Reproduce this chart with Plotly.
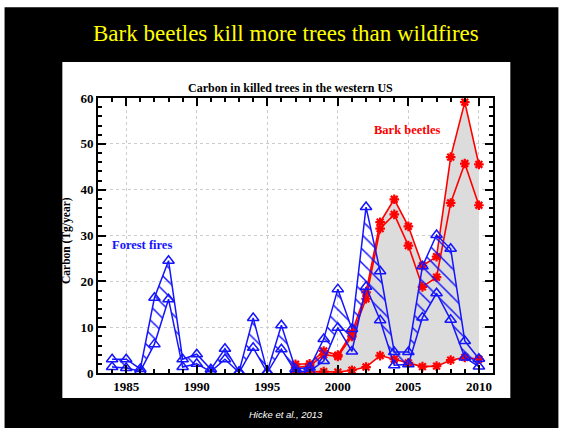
import plotly.graph_objects as go

fire_years = list(range(1984, 2011))
fire_high = [3.0, 3.0, 0.9, 16.4, 24.5, 3.0, 4.1, 0.8, 5.3, 0.3, 12.0, 0.3, 10.4, 0.9, 1.2, 7.4,
             18.3, 9.6, 36.2, 22.2, 4.6, 4.6, 23.3, 30.1, 27.1, 7.0, 3.1]
fire_low = [1.3, 1.1, 0.4, 6.3, 16.1, 1.3, 2.0, 0.3, 3.0, 0.1, 5.5, 0.1, 5.2, 0.3, 0.4, 2.6,
            9.9, 4.7, 18.8, 11.5, 1.7, 1.9, 12.1, 17.4, 11.6, 3.4, 1.4]

beetle_years = list(range(1997, 2011))
beetle_high = [1.9, 2.0, 4.8, 3.9, 8.8, 17.6, 32.9, 37.9, 32.0, 23.4, 25.4, 47.1, 59.1, 45.5]
beetle_mid = [1.2, 1.5, 4.0, 3.6, 8.0, 16.2, 31.5, 34.6, 27.8, 18.8, 20.9, 37.1, 45.7, 36.6]
beetle_low = [0.2, 0.3, 0.3, 0.2, 0.6, 1.3, 3.8, 3.0, 2.2, 1.4, 1.5, 2.8, 3.4, 3.0]

x_ticks = [1985, 1990, 1995, 2000, 2005, 2010]
y_ticks = [0, 10, 20, 30, 40, 50, 60]

RED = "rgb(255,0,0)"
BLUE = "rgb(20,20,255)"
SERIF = "Liberation Serif, 'Times New Roman', 'DejaVu Serif', serif"

red_marker = dict(symbol="asterisk-open", size=8, color=RED, line=dict(color=RED, width=2.2))
blue_marker = dict(symbol="triangle-up-open", size=10, color=BLUE, line=dict(color=BLUE, width=1.5))

fig = go.Figure()
fig.add_trace(go.Scatter(x=beetle_years, y=beetle_low, mode="lines+markers",
                         line=dict(color=RED, width=1.6), marker=red_marker))
fig.add_trace(go.Scatter(x=beetle_years, y=beetle_high, mode="lines+markers", fill="tonexty",
                         fillcolor="rgb(220,220,220)",
                         line=dict(color=RED, width=1.6), marker=red_marker))
fig.add_trace(go.Scatter(x=beetle_years, y=beetle_mid, mode="lines+markers",
                         line=dict(color=RED, width=1.6), marker=red_marker))
fig.add_trace(go.Scatter(x=fire_years, y=fire_low, mode="lines+markers",
                         line=dict(color=BLUE, width=1.5), marker=blue_marker))
fig.add_trace(go.Scatter(x=fire_years, y=fire_high, mode="lines+markers", fill="tonexty",
                         fillcolor="rgba(0,0,0,0)",
                         fillpattern=dict(shape="\\", size=10, solidity=0.15,
                                          fgcolor=BLUE, fillmode="replace"),
                         line=dict(color=BLUE, width=1.5), marker=blue_marker))

axis_common = dict(
    showline=True, linecolor="black", linewidth=2, mirror="allticks",
    ticks="inside", ticklen=8, tickwidth=1.5, tickcolor="black",
    showgrid=True, gridcolor="#cccccc", griddash="dot", gridwidth=1,
    zeroline=False,
    tickfont=dict(family=SERIF, size=13, color="black", weight="bold"),
)

fig.update_xaxes(range=[1983, 2011], tickvals=x_ticks, ticktext=[str(v) for v in x_ticks],
                 minor=dict(dtick=1, tick0=1983, ticks="inside", ticklen=4, tickcolor="black",
                            showgrid=False),
                 **axis_common)
fig.update_yaxes(range=[0, 60], tickvals=y_ticks, ticktext=[str(v) for v in y_ticks],
                 minor=dict(dtick=2, tick0=0, ticks="inside", ticklen=4, tickcolor="black",
                            showgrid=False),
                 **axis_common)

L, R, T, B = 98.3, 492.7, 97.7, 372.7
W, H = 563, 428
def px(x):
    return (x - L) / (R - L)
def py(y):
    return (B - y) / (B - T)

shapes = [
    dict(type="rect", xref="paper", yref="paper", x0=px(5), x1=px(558), y0=py(7), y1=py(430),
         fillcolor="black", line=dict(width=0), layer="below"),
    dict(type="rect", xref="paper", yref="paper", x0=px(62.7), x1=px(510), y0=py(61.7), y1=py(397.7),
         fillcolor="white", line=dict(width=0), layer="below"),
]

annotations = [
    dict(text="Bark beetles kill more trees than wildfires", xref="paper", yref="paper",
         x=px(286.5), y=py(33), showarrow=False, xanchor="center", yanchor="middle",
         font=dict(family=SERIF, size=23, color="rgb(255,255,0)")),
    dict(text="<b>Carbon in killed trees in the western US</b>", xref="paper", yref="paper",
         x=px(291), y=py(87.5), showarrow=False, xanchor="center", yanchor="middle",
         font=dict(family=SERIF, size=12, color="black")),
    dict(text="<b>Carbon (Tg/year)</b>", xref="paper", yref="paper", textangle=-90,
         x=px(67), y=py(240), showarrow=False, xanchor="center", yanchor="middle",
         font=dict(family=SERIF, size=11.5, color="black")),
    dict(text="<b>Forest fires</b>", xref="paper", yref="paper",
         x=px(142.5), y=py(245), showarrow=False, xanchor="center", yanchor="middle",
         font=dict(family=SERIF, size=12.5, color=BLUE)),
    dict(text="<b>Bark beetles</b>", xref="paper", yref="paper",
         x=px(406.7), y=py(130), showarrow=False, xanchor="center", yanchor="middle",
         font=dict(family=SERIF, size=12.5, color=RED)),
    dict(text="<i>Hicke et al., 2013</i>", xref="paper", yref="paper",
         x=px(286), y=py(414), showarrow=False, xanchor="center", yanchor="middle",
         font=dict(family="Liberation Sans, Arial, sans-serif", size=9.5, color="white")),
]

fig.update_layout(
    width=W, height=H,
    margin=dict(l=L, r=W - R, t=T, b=H - B, pad=0),
    paper_bgcolor="white", plot_bgcolor="white",
    showlegend=False,
    shapes=shapes, annotations=annotations,
)

fig.write_html("out.html", config={"displayModeBar": False},
               post_script="document.body.style.margin='0';")
